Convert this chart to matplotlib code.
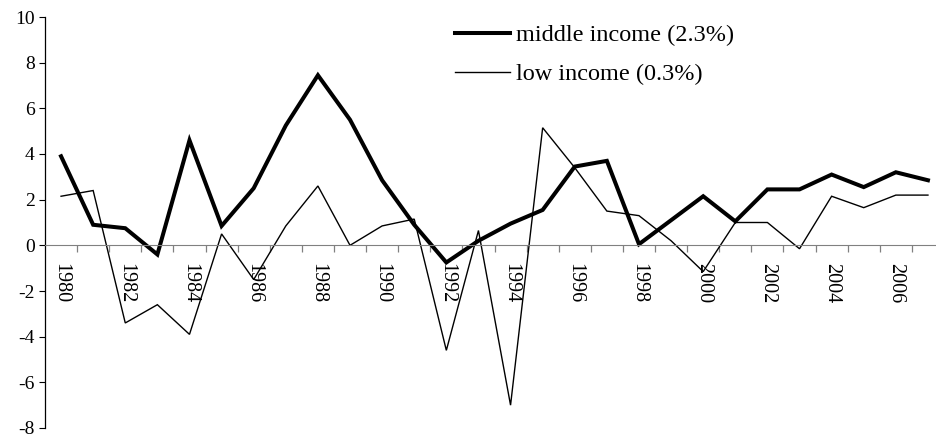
import numpy as np
import matplotlib
matplotlib.use("Agg")
import matplotlib.pyplot as plt

# values, annual growth (%)
years = list(range(1980, 2008))
middle_income = [3.9, 0.9, 0.75, -0.4, 4.6, 0.85, 2.5, 5.25, 7.45, 5.5,
                 2.85, 0.9, -0.75, 0.2, 0.95, 1.55, 3.45, 3.7, 0.05, 1.1,
                 2.15, 1.05, 2.45, 2.45, 3.1, 2.55, 3.2, 2.85]
low_income = [2.15, 2.4, -3.4, -2.6, -3.9, 0.5, -1.5, 0.85, 2.6, 0.0,
              0.85, 1.15, -4.6, 0.65, -7.0, 5.15, 3.4, 1.5, 1.3, 0.2,
              -1.15, 1.0, 1.0, -0.15, 2.15, 1.65, 2.2, 2.2]
labels = ["middle income (2.3%)", "low income (0.3%)"]
yticks = list(range(-8, 11, 2))
xlabel_years = years[::2]

plt.rcParams["font.family"] = ["Liberation Serif", "DejaVu Serif"]
plt.rcParams["axes.unicode_minus"] = False

fig = plt.figure(figsize=(9.36, 4.37), dpi=100)
ax = fig.add_axes([45 / 936, 9 / 437, 899 / 936, 411 / 437])

ax.plot(years, middle_income, color="black", lw=2.9, label=labels[0],
        solid_joinstyle="miter")
ax.plot(years, low_income, color="black", lw=1.0, label=labels[1],
        solid_joinstyle="miter")

ax.set_xlim(years[0] - 0.5, years[-1] + 0.5)
ax.set_ylim(-8, 10)
ax.set_yticks(yticks)
ax.tick_params(axis="y", labelsize=14, length=4, width=0.8, pad=3.5,
               colors="black")

# x axis sits at zero, ticks between categories, labels every 2 years
ax.spines["bottom"].set_position(("data", 0))
ax.spines["bottom"].set_color("#808080")
ax.spines["top"].set_visible(False)
ax.spines["right"].set_visible(False)
ax.spines["left"].set_linewidth(0.9)
ax.set_xticks(np.arange(years[0] + 0.5, years[-1] + 0.6, 1))
ax.set_xticklabels([])
ax.tick_params(axis="x", which="major", direction="out", length=5,
               color="#808080", width=0.9)
ax.set_xticks(xlabel_years, minor=True)
ax.set_xticklabels([str(y) for y in xlabel_years], minor=True, rotation=270)
ax.tick_params(axis="x", which="minor", length=0, pad=12.5, labelsize=14.5)

fig.legend(loc="upper left", bbox_to_anchor=(455 / 936, 1 - 24 / 437),
           frameon=False, fontsize=17.5, handlelength=2.26,
           handletextpad=0.25, labelspacing=0.72, borderpad=0,
           borderaxespad=0)

fig.savefig("out.png", dpi=100)
